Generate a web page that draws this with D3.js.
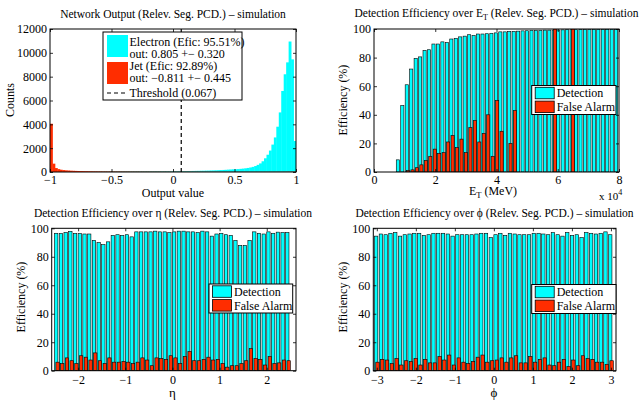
<!DOCTYPE html>
<html><head><meta charset="utf-8">
<script src="https://cdn.jsdelivr.net/npm/d3@7/dist/d3.min.js"></script>
<style>
body{margin:0;background:#fff}
svg{display:block}
text{font-family:"Liberation Serif","Times New Roman","DejaVu Serif",serif;fill:#000}
</style>
</head><body>
<svg id="c" width="640" height="401"></svg>
<script>
// ---------------- DATA ----------------
// Panel 1: network output histogram, 100 bins over [-1, 1]
const histBinWidth = 0.02;
const histBinCenters = d3.range(100).map(i => -1 + histBinWidth * (i + 0.5));
const electronCounts = [
  50,45,40,38,36,35,34,33,33,33, 34,34,35,35,36,37,38,39,40,41,
  42,43,44,45,46,47,48,49,50,51, 52,53,54,55,56,57,58,59,60,61,
  62,63,64,65,66,67,68,69,70,71, 72,73,75,77,79,81,84,87,90,94,
  98,102,107,112,118,125,132,140,150,160, 172,185,198,212,222,
  230,245,265,285,310,340,380,430,500,600, 720,900,1150,1450,1800,
  2300,2900,3800,5000,6800,8200,9200,10950,9450,2600];
const jetCounts = [
  4050,700,330,240,190,160,140,125,110,100, 92,85,80,75,70,66,62,58,55,52,
  50,48,46,45,44,43,42,41,40,39, 38,37,36,35,35,34,33,33,32,32,
  31,31,30,30,30,29,29,28,28,28, 27,27,26,26,26,25,25,25,24,24,
  24,23,23,23,22,22,22,22,21,21, 21,21,20,20,20,20,20,19,19,19,
  19,19,19,19,19,19,19,19,19,20, 20,20,21,21,22,23,25,27,30,35];
const thresholdValue = 0.067;
const histXTicks = [-1, -0.5, 0, 0.5, 1];
const histYTicks = [0, 2000, 4000, 6000, 8000, 10000, 12000];
const histLegend = [
  "Electron (Efic: 95.51%)", "out: 0.805 +\u2212 0.320",
  "Jet (Efic: 92.89%)", "out: \u22120.811 +\u2212 0.445",
  "Threshold (0.067)"];

// Panel 2: efficiency over E_T, 55 bins over [0, 8e4] MeV
const etBinCount = 55;
const etBinWidth = 80000 / etBinCount;
const etBinCenters = d3.range(etBinCount).map(i => etBinWidth * (i + 0.5));
const etDetection = [
  0,0,0,0,0, 8.5,46.5,61,72,79.5, 80.5,85,85.5,89.5,89.5,
  91,90.5,93,93.5,94.5, 95,96,95.5,96.5,96.5, 96.7,97,97.3,98,98,
  98.3,98.3,98.5,98.7,98.8, 99,99,99,99.2,99.2, 99.3,99.3,99.4,99.5,99.5,
  99.5,99.6,99.6,99.6,99.7, 99.7,99.7,99.8,99.8,99.8];
const etFalseAlarm = [
  0,0,0,0,0, 0,0,1,1.5,3, 5,8,11,16,13,
  13.5,21,25.5,17,23, 13.5,31,36,21,27, 40,11,50,28.5,0,
  20,43,0,0,0, 0,0,0,0,0, 100,0,0,0,100,
  0,0,0,0,0, 0,0,0,0,0];
const etXTicks = [0, 20000, 40000, 60000, 80000];
const effYTicks = [0, 20, 40, 60, 80, 100];

// Panel 3: efficiency over eta, 50 bins
const etaBinCenters = d3.range(50).map(i => -2.45 + 0.1 * i);
const etaDetection = [
  96.5,96.3,97,97.8,96.3,96.3,96,96, 91.5,90,88.5,90.5,
  95,95.5,95,95.5,94,
  97.5,97.5,97.5,97.5,98,97.5,97.5,97,97.5,98,98,97.5,97.5,97,98,97.5,
  94.5,96,96.5,95.5,95, 91.5,88,88,91.5,
  97.5,96.5,96,97.5,96.5,97.3,97,97];
const etaFalseAlarm = [
  6,5,9,7,5,10.5,9.5,7.5,12.5,7, 5,9,6,6,6.5,6,5,6,9,7.5,
  3.5,9,8.5,8,10.5,9,5,10,13.5,7, 7,8,9.5,7.5,8,5,2.5,3.5,3.5,5,
  7,15.5,8.5,8,4,10,5,5.5,7.5,7];
const etaXTicks = [-2, -1, 0, 1, 2];

// Panel 4: efficiency over phi, 50 bins
const phiBinCenters = d3.range(50).map(i => -3 + 6 * i / 49);
const phiDetection = [
  94.5,96,95.5,96.5,97,94.5,95.5,96,96.5,96.5, 95,95.5,96.5,96.5,96.5,96,94.5,95.5,95.5,95.5,
  95.5,96,96.5,96.5,93.5,95.5,96.5,95,96.5,96, 95.5,95.5,95.5,96.5,96.5,96,95.5,97,95.5,94.5,
  97,95,95.5,93.5,97,96.5,96,96.5,97.5,95.5];
const phiFalseAlarm = [
  6,8,7.5,5,8.5,4,7,6.5,8.5,4, 8,5.5,5.5,10,7.5,11,4,9,6,5,
  6.5,9.5,11,6,7,7.5,9,6,9,10.5, 5.5,5.5,10,6,8,9,4,3.5,6,8,
  3,7.5,3.5,10.5,8.5,8,6,6,4.5,7];
const phiXTicks = [-3, -2, -1, 0, 1, 2, 3];

const barLegend = ["Detection", "False Alarm"];

// ---------------- STYLE ----------------
const CYAN = "#00ffff", RED = "#ff2d00";
const FONT = '"Liberation Serif","Times New Roman","DejaVu Serif",serif';
const svg = d3.select("#c");
const fmt = d => (d < 0 ? "\u2212" + String(-d) : String(d));

function frame(p) {
  const g = svg.append("g");
  const x = d3.scaleLinear().domain(p.xDomain).range([p.x0, p.x1]);
  const y = d3.scaleLinear().domain(p.yDomain).range([p.y1, p.y0]);
  const clipId = "clip" + Math.round(p.x0) + "_" + Math.round(p.y0);
  svg.append("clipPath").attr("id", clipId).append("rect")
    .attr("x", p.x0).attr("y", p.y0).attr("width", p.x1 - p.x0).attr("height", p.y1 - p.y0);
  const plot = g.append("g").attr("clip-path", `url(#${clipId})`);
  return {g, x, y, plot};
}

function axes(p, F) {
  const {g, x, y} = F;
  const tk = 3;
  const ab = g.append("g").attr("transform", `translate(0,${p.y1})`)
    .call(d3.axisBottom(x).tickValues(p.xTicks).tickFormat(p.xFmt || fmt).tickSizeInner(-tk).tickSizeOuter(0).tickPadding(p.xPad));
  const at = g.append("g").attr("transform", `translate(0,${p.y0})`)
    .call(d3.axisTop(x).tickValues(p.xTicks).tickFormat("").tickSizeInner(-tk).tickSizeOuter(0));
  const al = g.append("g").attr("transform", `translate(${p.x0},0)`)
    .call(d3.axisLeft(y).tickValues(p.yTicks).tickFormat(fmt).tickSizeInner(-tk).tickSizeOuter(0).tickPadding(3));
  const ar = g.append("g").attr("transform", `translate(${p.x1},0)`)
    .call(d3.axisRight(y).tickValues(p.yTicks).tickFormat("").tickSizeInner(-tk).tickSizeOuter(0));
  [ab, at, al, ar].forEach(a => {
    a.attr("font-family", FONT);
    a.select(".domain").remove();
    a.selectAll("line").attr("stroke", "#000").attr("stroke-width", 0.8);
    a.selectAll("text").attr("font-size", "12px").attr("font-family", FONT).attr("fill", "#000");
  });
  g.append("rect").attr("x", p.x0).attr("y", p.y0).attr("width", p.x1 - p.x0).attr("height", p.y1 - p.y0)
    .attr("fill", "none").attr("stroke", "#000").attr("stroke-width", 1);
}

function title(cx, yb, parts) {
  const t = svg.append("text").attr("x", cx).attr("y", yb).attr("text-anchor", "middle").attr("font-size", "11.5px");
  parts.forEach(pt => {
    const s = t.append("tspan").text(pt.t);
    if (pt.sub) s.attr("font-size", "8px").attr("dy", 3);
    if (pt.after) s.attr("dy", -3);
  });
  return t;
}

function ylabel(x, y, txt) {
  svg.append("text").attr("transform", `translate(${x},${y}) rotate(-90)`)
    .attr("text-anchor", "middle").attr("font-size", "12px").text(txt);
}

// ---------------- PANEL 1 ----------------
{
  const p = {x0: 50, x1: 296, y0: 29, y1: 172, xDomain: [-1, 1], yDomain: [0, 12000],
             xTicks: histXTicks, yTicks: histYTicks, xPad: 3.5};
  const F = frame(p);
  const {x, y, plot} = F;
  const drawHist = (vals, col) => plot.append("g").selectAll("rect").data(vals).join("rect")
    .attr("x", (d, i) => x(histBinCenters[i] - histBinWidth / 2))
    .attr("width", (d, i) => x(histBinCenters[i] + histBinWidth / 2) - x(histBinCenters[i] - histBinWidth / 2) + 0.4)
    .attr("y", d => y(d)).attr("height", d => y(0) - y(d)).attr("fill", col);
  drawHist(electronCounts, CYAN);
  drawHist(jetCounts, RED);
  plot.append("line").attr("x1", x(thresholdValue)).attr("x2", x(thresholdValue))
    .attr("y1", y(0)).attr("y2", y(12000)).attr("stroke", "#000").attr("stroke-width", 1.2)
    .attr("stroke-dasharray", "4,3");
  axes(p, F);
  // legend
  const L = svg.append("g");
  L.append("rect").attr("x", 103).attr("y", 32).attr("width", 139).attr("height", 68)
    .attr("fill", "#fff").attr("stroke", "#000").attr("stroke-width", 1);
  L.append("rect").attr("x", 107).attr("y", 35).attr("width", 21).attr("height", 22).attr("fill", CYAN);
  L.append("rect").attr("x", 107).attr("y", 62).attr("width", 21).attr("height", 22).attr("fill", RED);
  L.append("line").attr("x1", 107).attr("x2", 128).attr("y1", 93).attr("y2", 93)
    .attr("stroke", "#000").attr("stroke-width", 1.2).attr("stroke-dasharray", "4,3");
  const ly = [45.5, 57.5, 70, 82, 97];
  histLegend.forEach((s, i) => L.append("text").attr("x", 129.5).attr("y", ly[i]).attr("font-size", "12px").text(s));
  title(173, 18, [{t: "Network Output (Relev. Seg. PCD.) \u2013 simulation"}]);
  svg.append("text").attr("x", 173).attr("y", 197).attr("text-anchor", "middle").attr("font-size", "12px").text("Output value");
  ylabel(14, 100, "Counts");
}

// ---------------- bar panels ----------------
function barPanel(p, centers, det, fa, spacing) {
  const F = frame(p);
  const {x, y, plot} = F;
  const bw = spacing;
  plot.append("g").selectAll("rect").data(det).join("rect")
    .attr("x", (d, i) => x(centers[i] - 0.5 * bw))
    .attr("width", (d, i) => x(centers[i] + 0.214 * bw) - x(centers[i] - 0.5 * bw))
    .attr("y", d => y(d)).attr("height", d => y(0) - y(d))
    .attr("fill", CYAN).attr("stroke", "#000").attr("stroke-width", 0.6);
  plot.append("g").selectAll("rect").data(fa).join("rect")
    .attr("x", (d, i) => x(centers[i] - 0.214 * bw))
    .attr("width", (d, i) => x(centers[i] + 0.5 * bw) - x(centers[i] - 0.214 * bw))
    .attr("y", d => y(d)).attr("height", d => y(0) - y(d))
    .attr("fill", RED).attr("stroke", "#000").attr("stroke-width", 0.6);
  axes(p, F);
  // legend
  const lg = p.legend;
  const L = svg.append("g");
  L.append("rect").attr("x", lg.x).attr("y", lg.y).attr("width", lg.w).attr("height", 29)
    .attr("fill", "#fff").attr("stroke", "#000").attr("stroke-width", 1);
  [CYAN, RED].forEach((c, i) => {
    L.append("rect").attr("x", lg.x + 3.5).attr("y", lg.y + 1.8 + i * 13.8).attr("width", 19).attr("height", 11.5)
      .attr("fill", c).attr("stroke", "#000").attr("stroke-width", 0.8);
    L.append("text").attr("x", lg.x + 25).attr("y", lg.y + 11.8 + i * 13.8).attr("font-size", "12px").text(barLegend[i]);
  });
}

// Panel 2
{
  const p = {x0: 374, x1: 619, y0: 29, y1: 172, xDomain: [0, 80000], yDomain: [0, 100],
             xTicks: etXTicks, yTicks: effYTicks, xFmt: d => String(d / 10000), xPad: 3.5,
             legend: {x: 531.7, y: 85.5, w: 84.3}};
  barPanel(p, etBinCenters, etDetection, etFalseAlarm, etBinWidth);
  title(496.5, 17, [{t: "Detection Efficiency over E"}, {t: "T", sub: true}, {t: " (Relev. Seg. PCD.) \u2013 simulation", after: true}]);
  const xl = svg.append("text").attr("x", 493).attr("y", 194.5).attr("text-anchor", "middle").attr("font-size", "12px");
  xl.append("tspan").text("E");
  xl.append("tspan").text("T").attr("font-size", "8.5px").attr("dy", 3);
  xl.append("tspan").text(" (MeV)").attr("dy", -3);
  const ex = svg.append("text").attr("x", 599).attr("y", 200).attr("font-size", "11px");
  ex.append("tspan").text("x 10");
  ex.append("tspan").text("4").attr("font-size", "8px").attr("dy", -5);
  ylabel(347, 100, "Efficiency (%)");
}

// Panel 3
{
  const p = {x0: 51.7, x1: 296, y0: 228.3, y1: 370.7, xDomain: [-2.56, 2.62], yDomain: [0, 100],
             xTicks: etaXTicks, yTicks: effYTicks, xPad: 4.5, legend: {x: 209, y: 284, w: 83.7}};
  barPanel(p, etaBinCenters, etaDetection, etaFalseAlarm, 0.1);
  title(173, 217, [{t: "Detection Efficiency over \u03b7 (Relev. Seg. PCD.) \u2013 simulation"}]);
  svg.append("text").attr("x", 172.5).attr("y", 396.5).attr("text-anchor", "middle").attr("font-size", "13px").text("\u03b7");
  ylabel(25, 297, "Efficiency (%)");
}

// Panel 4
{
  const p = {x0: 373.3, x1: 616, y0: 228.3, y1: 370.7, xDomain: [-3.09, 3.13], yDomain: [0, 100],
             xTicks: phiXTicks, yTicks: effYTicks, xPad: 4.5, legend: {x: 531.7, y: 284.5, w: 84.3}};
  barPanel(p, phiBinCenters, phiDetection, phiFalseAlarm, 6 / 49);
  title(494.5, 217, [{t: "Detection Efficiency over \u03d5 (Relev. Seg. PCD.) \u2013 simulation"}]);
  svg.append("text").attr("x", 494).attr("y", 396.5).attr("text-anchor", "middle").attr("font-size", "13px").text("\u03d5");
  ylabel(347, 297, "Efficiency (%)");
}
</script>
</body></html>
